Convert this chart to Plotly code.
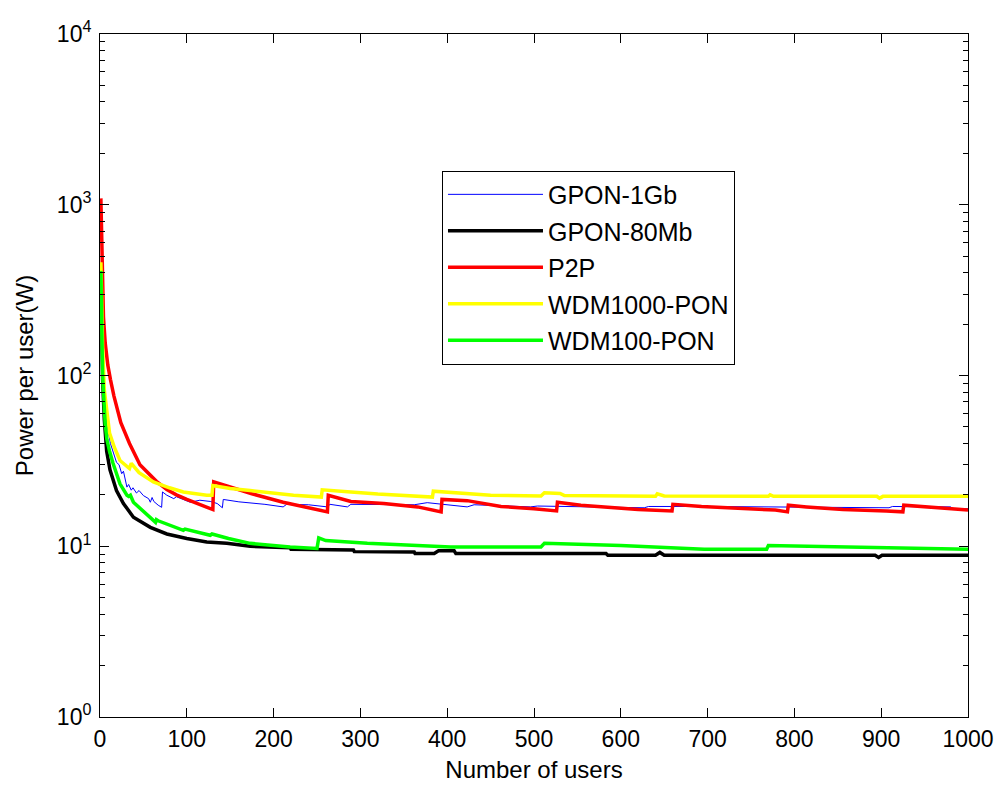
import plotly.graph_objects as go

# ---- data ----
x_gpon1g = [1, 2, 4, 8, 12, 19, 22, 25, 27, 31, 33, 36, 38, 42, 45, 50, 56, 58, 60, 62,
            67, 71, 72, 77, 85, 88, 104, 115, 127, 135, 141, 142, 160, 190, 211, 215, 240, 262, 265, 285,
            289, 330, 362, 377, 423, 431, 496, 504, 627, 632, 700, 909, 913, 980, 983, 1000]
y_gpon1g = [400, 190, 95, 52, 40, 31, 30, 26.6, 27.5, 22.2, 23, 21.3, 22, 20.5, 21.2, 19.8, 19, 18.1, 19.3, 18.3,
            17.4, 16.9, 20.8, 19.9, 19.0, 19.5, 18.1, 18.6, 18.3, 17.8, 16.8, 18.8, 18.2, 17.6, 17.0, 17.6, 17.5, 17.0, 17.6, 17.0,
            17.6, 17.6, 17.5, 18.0, 17.0, 17.5, 17.0, 17.2, 16.8, 17.1, 17.1, 16.8, 17.1, 17.0, 16.6, 16.6]

x_gpon80 = [1, 2, 3, 5, 7.7, 11.5, 19, 27, 38.5, 58, 77, 100, 123, 146, 173, 219, 220, 292, 293, 362,
            363, 385, 390, 408, 410, 583, 585, 640, 645, 650, 893, 897, 901, 1000]
y_gpon80 = [380, 160, 95, 55, 36, 28, 21.2, 17.8, 14.8, 12.9, 11.8, 11.1, 10.6, 10.4, 10.0, 9.8, 9.6, 9.5, 9.3, 9.25,
            9.06, 9.06, 9.4, 9.4, 9.06, 9.06, 8.86, 8.86, 9.2, 8.86, 8.86, 8.6, 8.86, 8.86]

x_p2p = [1, 2, 3, 4, 6, 9, 12, 16, 24, 34, 46, 55, 65, 77, 88, 100, 115, 130, 131, 150,
         175, 211, 240, 262, 263, 289, 327, 366, 393, 394, 423, 462, 500, 526, 527, 554, 585, 620, 659, 660,
         693, 739, 778, 792, 793, 814, 856, 906, 925, 926, 979, 1000]
y_p2p = [1090, 560, 330, 220, 155, 115, 95, 76, 53, 40, 30, 27, 24, 21.5, 20, 18.8, 17.5, 16.4, 23.8, 22.2,
         20.3, 18.1, 16.9, 15.9, 19.9, 18.3, 17.8, 17.0, 15.9, 18.8, 18.5, 17.1, 16.6, 16.1, 18.1, 17.4, 16.9, 16.4, 16.1, 17.6,
         17.1, 16.6, 16.3, 15.9, 17.4, 17.0, 16.4, 16.1, 15.9, 17.4, 16.6, 16.3]

x_wdm1000 = [1, 2, 3, 5, 8, 11, 16.5, 23, 34, 36, 45, 61.5, 80, 96, 123, 129, 130, 150, 173, 223,
             255, 256, 289, 320, 383, 384, 450, 508, 512, 530, 535, 640, 642, 650, 770, 772, 776, 895, 898, 902,
             1000]
y_wdm1000 = [460, 230, 150, 82, 60, 46, 38, 31.8, 28.5, 30.6, 27, 23.8, 22, 20.8, 19.9, 19.9, 22.7, 21.8, 21.2, 19.9,
             19.4, 21.4, 20.8, 20.2, 19.4, 21.0, 19.9, 19.7, 20.6, 20.4, 19.8, 19.6, 20.3, 19.7, 19.6, 20.0, 19.6, 19.6, 19.1, 19.6,
             19.6]

x_wdm100 = [1, 2, 3, 6, 8, 11, 15, 23, 31, 33, 35, 38.5, 58, 64, 65, 67, 96, 98, 127, 129,
            148, 173, 219, 250, 252, 260, 308, 404, 508, 512, 600, 696, 768, 770, 1000]
y_wdm100 = [410, 170, 100, 52, 42, 36, 30.6, 23.2, 19.9, 19.6, 19.9, 18.1, 14.8, 13.8, 14.3, 14.1, 12.4, 12.6, 11.6, 11.8,
            11.1, 10.4, 9.9, 9.7, 11.2, 10.8, 10.4, 9.9, 9.9, 10.4, 10.1, 9.6, 9.6, 10.1, 9.6]

x_ticks = [0, 100, 200, 300, 400, 500, 600, 700, 800, 900, 1000]
y_ticks = [1, 10, 100, 1000, 10000]
y_tick_text = ["10<sup>0</sup>", "10<sup>1</sup>", "10<sup>2</sup>", "10<sup>3</sup>", "10<sup>4</sup>"]
y_minor_ticks = [m * d for d in [1, 10, 100, 1000] for m in range(2, 10)]

series = [
    ("GPON-1Gb", x_gpon1g, y_gpon1g, "#0000ff", 1),
    ("GPON-80Mb", x_gpon80, y_gpon80, "#000000", 3.5),
    ("P2P", x_p2p, y_p2p, "#ff0000", 3.5),
    ("WDM1000-PON", x_wdm1000, y_wdm1000, "#ffff00", 3.5),
    ("WDM100-PON", x_wdm100, y_wdm100, "#00ff00", 3.5),
]

FONT = "Liberation Sans, Arial, Helvetica, sans-serif"

fig = go.Figure()
for i, (name, xs, ys, col, w) in enumerate(series):
    fig.add_trace(go.Scatter(x=xs, y=ys, mode="lines", name=name, legendgroup=f"g{i}",
                             line=dict(color=col, width=w)))

fig.update_layout(
    width=998, height=785,
    margin=dict(l=100, r=30, t=34, b=68, autoexpand=False),
    paper_bgcolor="white", plot_bgcolor="white",
    font=dict(family=FONT, color="black", size=23),
    showlegend=True,
    legend=dict(x=0.394, y=0.800, xanchor="left", yanchor="top",
                bordercolor="black", borderwidth=1, bgcolor="white",
                font=dict(family=FONT, size=25, color="black"),
                tracegroupgap=1, itemwidth=95),
)
fig.update_xaxes(range=[0, 1000], tickvals=x_ticks, ticks="inside", ticklen=9,
                 tickcolor="black", showline=True, linecolor="black", linewidth=1,
                 mirror="ticks", showgrid=False, zeroline=False, ticklabelstandoff=1,
                 automargin=False,
                 title=dict(text="Number of users", font=dict(size=24), standoff=10),
                 tickfont=dict(size=23))
fig.update_yaxes(type="log", range=[0, 4], tickvals=y_ticks, ticktext=y_tick_text,
                 ticks="inside", ticklen=9, tickcolor="black",
                 showline=True, linecolor="black", linewidth=1, mirror="ticks",
                 showgrid=False, zeroline=False, ticklabelstandoff=3, automargin=False,
                 minor=dict(tickmode="array", tickvals=y_minor_ticks, ticks="inside",
                            ticklen=5, tickcolor="black", showgrid=False),
                 title=dict(text="Power per user(W)", font=dict(size=24), standoff=16),
                 tickfont=dict(size=23))

fig.write_html("out.html")
